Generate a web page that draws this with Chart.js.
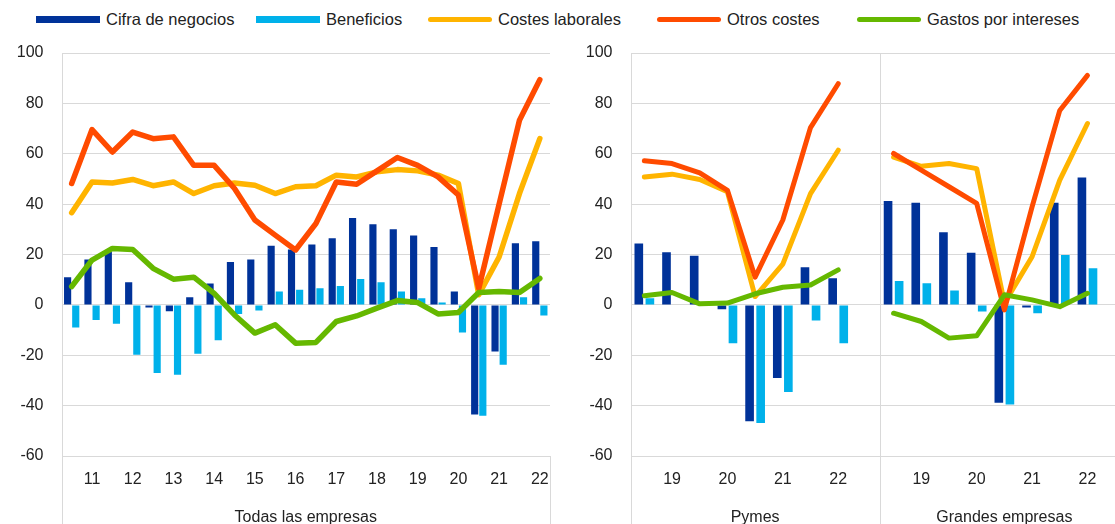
<!DOCTYPE html>
<html>
<head>
<meta charset="utf-8">
<script src="https://cdn.jsdelivr.net/npm/chart.js@4.4.0/dist/chart.umd.min.js"></script>
<style>
  html, body { margin: 0; padding: 0; background: #fff; }
  body { width: 1115px; height: 524px; position: relative; overflow: hidden;
         font-family: "Liberation Sans", Arial, sans-serif; }
  #legend { position: absolute; left: 0; top: 0; width: 1115px; height: 40px;
            font-size: 16.5px; color: #222; }
  .item { position: absolute; top: 10px; display: flex; align-items: center; gap: 6px; white-space: nowrap; }
  .sw { width: 64px; height: 7px; }
  .sw.line { height: 5px; border-radius: 3px; }
  #left { position: absolute; left: 0; top: 0; }
  #right { position: absolute; left: 560px; top: 0; }
</style>
</head>
<body>
<div id="legend"></div>
<canvas id="left" width="560" height="524"></canvas>
<canvas id="right" width="580" height="524"></canvas>
<script>
// ---- data (semiannual rounds, % net balance) ----
const seriesNames = ['Cifra de negocios', 'Beneficios', 'Costes laborales', 'Otros costes', 'Gastos por intereses'];

// all firms, 24 rounds
const periodsAll = ['', '11', '', '12', '', '13', '', '14', '', '15', '', '16',
                    '', '17', '', '18', '', '19', '', '20', '', '21', '', '22'];
const cifraAll     = [11, 18, 21, 9, -1, -2.5, 3, 8.5, 17, 18, 23.5, 22, 24, 26.5, 34.5, 32, 30, 27.5, 23, 5.3, -43.5, -18.5, 24.5, 25.3];
const benefAll     = [-9, -6, -7.5, -19.8, -27, -27.7, -19.4, -14, -3.6, -2.2, 5.3, 6, 6.6, 7.5, 10.3, 9, 5.3, 2.6, 0.9, -11, -44, -23.8, 3, -4.2];
const laboralAll   = [36.6, 48.8, 48.4, 49.8, 47.3, 48.8, 44.2, 47.3, 48.4, 47.5, 44.2, 46.9, 47.3, 51.5, 50.8, 52.8, 53.7, 53.2, 51.5, 48.2, 4, 19, 44.2, 66];
const otrosAll     = [48.2, 69.6, 60.7, 68.6, 66, 66.7, 55.4, 55.4, 46.2, 33.7, 27.7, 21.8, 32.3, 48.8, 47.9, 53.2, 58.5, 55.4, 50.8, 43.6, 6.5, 40, 73.3, 89.4];
const interesesAll = [7.3, 17.8, 22.4, 22, 14.5, 10.2, 11, 4.6, -4, -11.2, -7.9, -15.2, -14.9, -6.6, -4.4, -1.3, 1.7, 0.9, -3.6, -3, 4.9, 5.3, 4.9, 10.5];

// SMEs and large firms, 8 rounds each
const periodsSub = ['', '19', '', '20', '', '21', '', '22'];
const cifraPymes     = [24.4, 20.9, 19.5, -1.7, -46.2, -29, 14.9, 10.6];
const benefPymes     = [2.6, 0, 0.5, -15.2, -46.9, -34.6, -6.2, -15.2];
const laboralPymes   = [50.8, 51.9, 49.8, 44.9, 3.3, 16.2, 44.2, 61.4];
const otrosPymes     = [57.2, 56.1, 52.4, 45.5, 11, 33.7, 70.4, 87.8];
const interesesPymes = [3.6, 4.9, 0.4, 0.7, 4.4, 7, 7.9, 13.9];

const cifraGrandes     = [41.2, 40.5, 28.8, 20.7, -38.9, -1, 40.5, 50.6];
const benefGrandes     = [9.5, 8.6, 5.7, -2.6, -39.6, -3.3, 19.8, 14.5];
const laboralGrandes   = [58.7, 55, 56.1, 54.1, 0.7, 19.1, 49.5, 72];
const otrosGrandes     = [60.1, 53.5, 46.9, 40.3, -2, 38.9, 77.2, 91.1];
const interesesGrandes = [-3.3, -6.6, -13.2, -12.3, 4, 2, -0.7, 4.6];

const groupAll = ['Todas las empresas'];
const groupSub = ['Pymes', 'Grandes empresas'];

// ---- styles ----
const colors = ['#003299', '#00b1ea', '#ffb400', '#ff4b00', '#65b800'];
const legendLeft = [36, 256, 428, 657, 857];
const FONT = { family: '"Liberation Sans", Arial, sans-serif', size: 16 };
const TXT = '#222';
const GRID = '#d9d9d9';

// legend
const legend = document.getElementById('legend');
seriesNames.forEach((name, i) => {
  const it = document.createElement('div');
  it.className = 'item';
  it.style.left = legendLeft[i] + 'px';
  it.innerHTML = '<span class="sw' + (i > 1 ? ' line' : '') + '" style="background:' + colors[i] + '"></span>' + name;
  legend.appendChild(it);
});

// vertical frame lines of the panels (category boundaries)
const panelLines = {
  id: 'panelLines',
  beforeDatasetsDraw(chart, args, opts) {
    const { ctx, chartArea: a } = chart;
    const w = a.width / chart.data.labels.length;
    ctx.save();
    ctx.strokeStyle = GRID;
    ctx.lineWidth = 1;
    const line = (k, y0) => {
      const px = Math.round(a.left + k * w) + 0.5;
      ctx.beginPath(); ctx.moveTo(px, y0); ctx.lineTo(px, chart.height); ctx.stroke();
    };
    (opts.full || []).forEach(k => line(k, a.top));
    (opts.below || []).forEach(k => line(k, a.bottom));
    ctx.restore();
  }
};

function makeDatasets(cifra, benef, laboral, otros, intereses, barPct, lw) {
  const bar = (data, i) => ({
    type: 'bar', label: seriesNames[i], data, backgroundColor: colors[i],
    xAxisID: 'x', yAxisID: 'y', order: 10, barPercentage: barPct, categoryPercentage: 0.8
  });
  const line = (data, i, order) => ({
    type: 'line', label: seriesNames[i], data, borderColor: colors[i], backgroundColor: colors[i],
    borderWidth: lw, pointRadius: 0, tension: 0, spanGaps: false,
    borderCapStyle: 'round', borderJoinStyle: 'round',
    xAxisID: 'x', yAxisID: 'y', order
  });
  return [bar(cifra, 0), bar(benef, 1), line(laboral, 2, 3), line(otros, 3, 2), line(intereses, 4, 1)];
}

function makeOptions(yWidth, padRight, groups, lines) {
  return {
    responsive: false,
    animation: false,
    layout: { padding: { top: 53, right: padRight, left: 0, bottom: 0 } },
    plugins: { legend: { display: false }, tooltip: { enabled: false }, panelLines: lines },
    scales: {
      x: {
        type: 'category', offset: true, weight: 0,
        grid: { display: false }, border: { display: false },
        ticks: { autoSkip: false, maxRotation: 0, padding: 6, font: FONT, color: TXT },
        afterFit: s => { s.height = 36; }
      },
      grp: {
        type: 'category', labels: groups, position: 'bottom', offset: true, weight: 1,
        grid: { display: false }, border: { display: false },
        ticks: { autoSkip: false, maxRotation: 0, padding: 8, font: FONT, color: TXT },
        afterFit: s => { s.height = 32; }
      },
      y: {
        min: -60, max: 100,
        grid: { color: GRID, drawTicks: false }, border: { display: false },
        ticks: { stepSize: 20, padding: 18, font: FONT, color: TXT },
        afterFit: s => { s.width = yWidth; }
      }
    }
  };
}

const gap = (a, b) => [...a, null, ...b, null];

new Chart(document.getElementById('left'), {
  data: {
    labels: periodsAll,
    datasets: makeDatasets(cifraAll, benefAll, laboralAll, otrosAll, interesesAll, 0.88, 5.5)
  },
  options: makeOptions(61.5, 10, groupAll, { full: [0], below: [periodsAll.length] }),
  plugins: [panelLines]
});

new Chart(document.getElementById('right'), {
  data: {
    labels: gap(periodsSub, periodsSub),
    datasets: makeDatasets(
      gap(cifraPymes, cifraGrandes), gap(benefPymes, benefGrandes),
      gap(laboralPymes, laboralGrandes), gap(otrosPymes, otrosGrandes),
      gap(interesesPymes, interesesGrandes), 0.78, 5)
  },
  options: makeOptions(70.5, 11, groupSub, { full: [0, periodsSub.length + 1] }),
  plugins: [panelLines]
});
</script>
</body>
</html>
